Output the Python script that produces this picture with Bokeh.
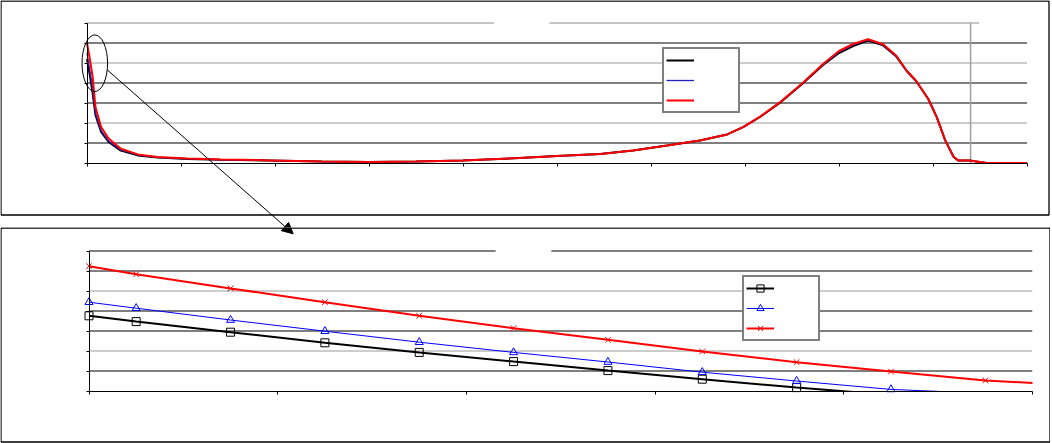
from bokeh.plotting import figure
from bokeh.layouts import column
from bokeh.models import (Range1d, FixedTicker, CustomJSTickFormatter, Legend, LegendItem,
                          Arrow, NormalHead, BoxAnnotation)
from bokeh.core.properties import value
from bokeh.embed import file_html
from bokeh.resources import INLINE

# ---------------- data: top chart (full record) ----------------
top_x = [0, 0.03, 0.06, 0.09, 0.15, 0.23, 0.36, 0.54, 0.75, 1.07, 1.42, 1.95, 2.5, 3.0,
         3.5, 4.0, 4.6, 5.0, 5.46, 5.81, 6.17, 6.52, 6.81, 6.98, 7.16, 7.37, 7.62, 7.83,
         8.0, 8.15, 8.31, 8.47, 8.61, 8.72, 8.82, 8.95, 9.04, 9.13, 9.22, 9.27, 9.39, 9.57, 10.0]
top_black = [5.2, 4.4, 3.5, 2.4, 1.55, 1.05, 0.62, 0.38, 0.27, 0.20, 0.16, 0.12, 0.07, 0.05,
             0.07, 0.13, 0.25, 0.35, 0.45, 0.63, 0.88, 1.13, 1.43, 1.79, 2.30, 3.00, 4.00, 4.90,
             5.50, 5.85, 6.12, 5.88, 5.32, 4.60, 4.10, 3.20, 2.29, 1.13, 0.30, 0.12, 0.12, 0.0, 0.0]
top_blue = [5.5, 4.6, 3.7, 2.5, 1.62, 1.10, 0.65, 0.40, 0.28, 0.21, 0.17, 0.12, 0.07, 0.05,
            0.07, 0.13, 0.25, 0.35, 0.45, 0.63, 0.88, 1.13, 1.43, 1.79, 2.31, 3.02, 4.02, 4.93,
            5.55, 5.90, 6.15, 5.90, 5.34, 4.60, 4.10, 3.20, 2.29, 1.13, 0.30, 0.12, 0.12, 0.0, 0.0]
top_red = [6.0, 5.2, 4.3, 2.8, 1.80, 1.22, 0.71, 0.43, 0.30, 0.22, 0.18, 0.13, 0.08, 0.05,
           0.07, 0.13, 0.25, 0.35, 0.45, 0.63, 0.88, 1.13, 1.43, 1.79, 2.32, 3.03, 4.03, 4.95,
           5.60, 5.95, 6.19, 5.94, 5.36, 4.61, 4.11, 3.20, 2.29, 1.13, 0.30, 0.13, 0.13, 0.0, 0.0]
top_xticks = list(range(0, 11))
top_yticks = list(range(0, 8))

# ---------------- data: bottom chart (zoomed start) ----------------
bot_x = [0, 0.5, 1.5, 2.5, 3.5, 4.5, 5.5, 6.5, 7.5, 8.5, 9.5, 10.5]
bot_black = [3.76, 3.47, 2.94, 2.41, 1.93, 1.47, 1.02, 0.59, 0.17, -0.20]
bot_blue = [4.44, 4.14, 3.55, 2.99, 2.44, 1.93, 1.45, 0.94, 0.50, 0.08, -0.12]
bot_red = [6.24, 5.84, 5.13, 4.44, 3.76, 3.14, 2.56, 1.98, 1.44, 0.97, 0.53, 0.27]
bot_xticks = [0, 2, 4, 6, 8, 10]
bot_yticks = list(range(0, 8))

# ---------------- layout / styling constants (pixels) ----------------
W = 1050
TOP_H, BOT_H = 227, 216
GRID_GREY = "#9a9a9a"
GREY_LEVELS = {2, 5}
XMAX, YMAX = 10, 7
ARROW_FROM = (106.7, 69.3)     # page pixels (ellipse edge)
ARROW_TO = (292.7, 233.3)      # page pixels (arrow tip)


def make_fig(h, x0_px, xs, y0_px, ys, xticks, yticks):
    """Frame covers the whole canvas; data origin at pixel (x0_px, y0_px), xs/ys px per unit."""
    xr = Range1d(-x0_px / xs, (W - x0_px) / xs)
    yr = Range1d(-(h - y0_px) / ys, y0_px / ys)
    p = figure(width=W, height=h, x_range=xr, y_range=yr, output_backend="svg",
               toolbar_location=None, title=None, min_border=0)
    p.outline_line_color = None
    p.background_fill_color = "white"
    p.border_fill_color = "white"
    p.xgrid.visible = False
    p.ygrid.visible = False
    empty = CustomJSTickFormatter(code="return ''")
    for ax in (p.xaxis[0], p.yaxis[0]):
        ax.formatter = empty
        ax.major_label_text_font_size = "1px"
        ax.major_label_standoff = 0
        ax.axis_line_color = "black"
        ax.axis_line_width = 1
        ax.major_tick_line_color = "black"
        ax.major_tick_in = 0
        ax.major_tick_out = 3
        ax.minor_tick_line_color = None
        ax.fixed_location = 0
    p.xaxis[0].ticker = FixedTicker(ticks=xticks)
    p.yaxis[0].ticker = FixedTicker(ticks=yticks)
    p.xaxis[0].bounds = (0, XMAX)
    p.yaxis[0].bounds = (0, YMAX)
    levels = [t for t in yticks if 0 < t < YMAX]
    colors = [GRID_GREY if t in GREY_LEVELS else "black" for t in levels]
    p.segment(x0=[0] * len(levels), x1=[XMAX] * len(levels), y0=levels, y1=levels,
              line_color=colors, line_width=1)

    def to_data(px, py):   # canvas pixel -> data
        return xr.start + px / xs, yr.end - py / ys
    return p, to_data


def legend(items, loc):
    return Legend(items=items, location=loc, margin=0, padding=2, spacing=2, glyph_width=28,
                  glyph_height=18, label_width=42, label_height=18, label_standoff=0,
                  label_text_font_size="8px", border_line_color="black", border_line_width=2,
                  background_fill_color="white", background_fill_alpha=1.0)


def frame_box(to_data, l, t, r, b):
    x0, y0 = to_data(l, t)
    x1, y1 = to_data(r, b)
    return BoxAnnotation(left=x0, right=x1, top=y0, bottom=y1, fill_alpha=0,
                         line_color="black", line_width=1.3, line_alpha=1)


def arrow(to_data, dy):
    xs_, ys_ = to_data(ARROW_FROM[0], ARROW_FROM[1] - dy)
    xe_, ye_ = to_data(ARROW_TO[0], ARROW_TO[1] - dy)
    return Arrow(x_start=xs_, y_start=ys_, x_end=xe_, y_end=ye_, line_color="black", line_width=1,
                 end=NormalHead(size=11, fill_color="black", line_color="black"))


# ================= top chart =================
top, top_px = make_fig(TOP_H, 86.5, 94.0, 162.5, 20.0, top_xticks, top_yticks)
top.segment(x0=[0, 4.92], x1=[4.33, 9.49], y0=[YMAX, YMAX], y1=[YMAX, YMAX],
            line_color="#8c8c8c", line_width=1)
top.segment(x0=[9.40], x1=[9.40], y0=[0], y1=[YMAX], line_color="#a0a0a0", line_width=1.5)

r_tb = top.line(top_x, top_black, line_color="black", line_width=2)
r_tu = top.line(top_x, top_blue, line_color="#2020c0", line_width=1.3)
r_tr = top.line(top_x, top_red, line_color="#ff0000", line_width=2)

top.ellipse(x=[0.083], y=[4.99], width=0.272, height=2.83, fill_color=None,
            line_color="black", line_width=1)

top.add_layout(legend([LegendItem(label=value(""), renderers=[r]) for r in (r_tb, r_tu, r_tr)],
                      (662, 114)))
top.add_layout(frame_box(top_px, 0.5, 0.5, 1048.5, 214.5))
top.add_layout(arrow(top_px, 0))

# ================= bottom chart =================
bot, bot_px = make_fig(BOT_H, 88.5, 94.35, 163.5, 20.0, bot_xticks, bot_yticks)
bot.segment(x0=[0, 4.90], x1=[4.31, XMAX], y0=[YMAX, YMAX], y1=[YMAX, YMAX],
            line_color="black", line_width=1)


def visible(xs, ys):
    m = [(x, y) for x, y in zip(xs, ys) if y >= 0 and x <= XMAX]
    return [a for a, _ in m], [b for _, b in m]


lb_ = bot.line(bot_x[:len(bot_black)], bot_black, line_color="black", line_width=2)
lu_ = bot.line(bot_x[:len(bot_blue)], bot_blue, line_color="#0000ff", line_width=1)
lr_ = bot.line(bot_x, bot_red, line_color="#ff0000", line_width=2)

# white masks: hide what runs past the plot area (below 0 / right of the last tick)
xr, yr = bot.x_range, bot.y_range
bot.quad(left=[xr.start, XMAX], right=[xr.end, xr.end], bottom=[yr.start, yr.start],
         top=[0, yr.end], fill_color="white", line_color=None)

bx_, by_ = visible(bot_x, bot_black)
sb_ = bot.scatter(bx_, by_, marker="square", size=8, fill_color=None, line_color="black", line_width=1)
ux_, uy_ = visible(bot_x, bot_blue)
su_ = bot.scatter(ux_, uy_, marker="triangle", size=8, fill_color=None, line_color="#0000ff", line_width=1)
rx_, ry_ = visible(bot_x, bot_red)
sr_ = bot.scatter(rx_, ry_, marker="x", size=8, line_color="#ff0000", line_width=1)

bot.add_layout(legend([LegendItem(label=value(""), renderers=[l, s])
                       for l, s in ((lb_, sb_), (lu_, su_), (lr_, sr_))], (742, 102)))
bot.add_layout(frame_box(bot_px, 0.5, 0.5, 1049.5, 214.5))
bot.add_layout(arrow(bot_px, TOP_H))

layout = column(top, bot, spacing=0)
open("out.html", "w").write(file_html(layout, INLINE))
